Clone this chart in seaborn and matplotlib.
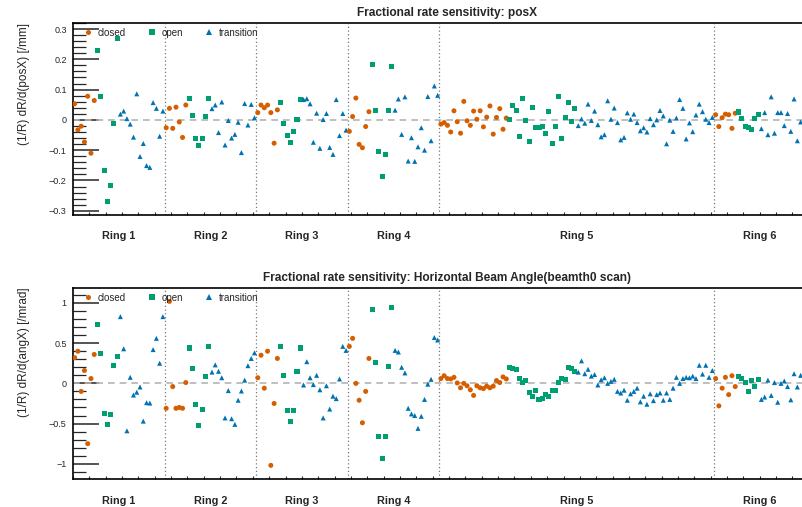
import pandas as pd
import seaborn as sns
import matplotlib.pyplot as plt
from matplotlib.ticker import MultipleLocator, FuncFormatter

# detector layout: rings, ring 5 has three times as many channels
rings = ['Ring 1', 'Ring 2', 'Ring 3', 'Ring 4', 'Ring 5', 'Ring 6']
ring_mult = [1, 1, 1, 1, 3, 1]
types = ['closed', 'open', 'transition']
type_counts = [7, 7, 14]

# posX sensitivity, per ring: closed, open, transition channels in order
posx_r1 = [0.053, -0.033, -0.021, -0.073, 0.078, -0.11, 0.064,
           0.229, 0.076, -0.166, -0.269, -0.218, -0.012, 0.268,
           0.019, 0.029, 0.004, -0.014, -0.057, 0.086, -0.121, -0.078, -0.151, -0.157, 0.057, 0.038, -0.054, 0.029]
posx_r2 = [-0.026, 0.038, -0.028, 0.042, -0.007, -0.058, 0.049,
           0.072, 0.014, -0.061, -0.084, -0.061, 0.012, 0.072,
           0.037, 0.049, -0.042, 0.059, -0.083, -0.002, -0.06, -0.048, -0.008, -0.108, 0.054, -0.017, 0.051, 0.007]
posx_r3 = [0.024, 0.049, 0.04, 0.049, 0.024, -0.077, 0.033,
           0.056, -0.011, -0.051, -0.074, -0.037, 0.0, 0.066,
           0.067, 0.07, 0.053, -0.074, 0.022, -0.094, 0.001, 0.021, -0.091, -0.114, 0.067, -0.052, 0.021, -0.034]
posx_r4 = [-0.038, 0.011, 0.072, -0.081, -0.092, -0.022, 0.027,
           0.182, 0.032, -0.104, -0.188, -0.114, 0.032, 0.176,
           0.032, 0.069, -0.048, 0.076, -0.136, -0.059, -0.137, -0.089, -0.026, -0.1, 0.077, -0.069, 0.112, 0.081]
posx_r5 = [-0.014, -0.009, -0.018, -0.04, 0.03, -0.006, -0.044, 0.061, -0.003, -0.018, 0.029,
           0.002, 0.03, -0.023, 0.009, 0.046, -0.047, 0.008, 0.037, -0.031, 0.006,
           0.002, 0.049, 0.032, -0.054, 0.072, -0.001, -0.071, 0.042, -0.026, -0.024, -0.021,
           -0.044, 0.029, -0.078, -0.021, 0.076, -0.061, 0.009, 0.056, -0.004, 0.036,
           -0.019, 0.003, -0.011, 0.052, -0.002, 0.029, -0.016, -0.056, -0.049, 0.063,
           0.002, 0.039, -0.009, -0.066, -0.058, 0.023, 0.002, 0.019, -0.009, -0.036,
           -0.026, -0.04, 0.004, -0.016, 0.0, 0.031, 0.013, -0.079, -0.001, -0.038, 0.006,
           0.067, 0.038, -0.063, -0.01, -0.039, 0.016, 0.052, 0.027, 0.002, -0.009, 0.008]
posx_r6 = [0.017, -0.022, 0.007, 0.019, 0.017, -0.028, 0.022,
           0.026, 0.006, -0.021, -0.024, -0.031, 0.006, 0.019,
           -0.029, 0.024, -0.049, 0.076, -0.044, 0.024, 0.024, -0.019, 0.021, -0.038, 0.069, -0.069, -0.007, -0.005]

# angX sensitivity
angx_r1 = [0.32, 0.40, -0.10, 0.16, -0.75, 0.06, 0.36,
           0.73, 0.37, -0.37, -0.51, -0.39, 0.22, 0.34,
           0.83, 0.43, -0.59, 0.075, -0.145, -0.11, -0.045, -0.47, -0.24, -0.245, 0.42, 0.56, 0.25, 0.83]
angx_r2 = [-0.31, 1.02, -0.04, -0.31, -0.30, -0.31, 0.01,
           0.44, 0.18, -0.26, -0.53, -0.33, 0.09, 0.46,
           0.14, 0.23, 0.15, 0.07, -0.43, -0.09, -0.44, -0.51, -0.21, -0.095, 0.04, 0.22, 0.31, 0.38]
angx_r3 = [0.07, 0.35, -0.06, 0.40, -1.02, -0.25, 0.31,
           0.46, 0.10, -0.34, -0.48, -0.34, 0.145, 0.44,
           -0.02, 0.27, 0.07, -0.015, 0.10, -0.08, -0.43, -0.03, -0.32, -0.16, -0.19, 0.055, 0.46, 0.41]
angx_r4 = [0.46, 0.56, 0.0, -0.21, -0.49, -0.10, 0.31,
           0.92, 0.26, -0.66, -0.94, -0.66, 0.21, 0.95,
           0.41, 0.39, 0.20, 0.13, -0.31, -0.38, -0.40, -0.56, -0.41, -0.20, -0.01, 0.05, 0.57, 0.54]
angx_r5 = [0.06, 0.095, 0.06, 0.055, 0.075, 0.005, -0.055, 0.0, -0.03, -0.08, -0.15,
           -0.03, -0.055, -0.065, -0.035, -0.055, -0.035, 0.035, 0.01, 0.08, 0.055,
           0.195, 0.18, 0.175, 0.06, 0.01, 0.035, -0.115, -0.165, -0.09, -0.205, -0.19,
           -0.14, -0.16, -0.09, -0.09, 0.01, 0.06, 0.05, 0.195, 0.18, 0.145,
           0.14, 0.28, 0.12, 0.175, 0.09, 0.11, -0.02, 0.045, 0.07, 0.0,
           0.025, 0.05, -0.10, -0.12, -0.085, -0.21, -0.13, -0.10, -0.06, -0.23,
           -0.16, -0.26, -0.13, -0.215, -0.14, -0.12, -0.21, -0.12, -0.20, -0.06,
           0.075, 0.0, 0.06, 0.075, 0.07, 0.09, 0.06, 0.225, 0.115, 0.225, 0.075, 0.16]
angx_r6 = [0.06, -0.28, -0.06, 0.075, -0.14, 0.095, -0.04,
           0.08, 0.055, 0.01, -0.10, 0.03, -0.035, 0.05,
           -0.20, -0.17, 0.04, -0.15, 0.01, -0.235, 0.0, 0.03, -0.04, -0.205, 0.12, -0.045, 0.10, 0.10]

colors = {'closed': '#D55E00', 'open': '#009E73', 'transition': '#0072B2'}
markers = {'closed': 'o', 'open': 's', 'transition': '^'}


def build(ring_values):
    rows = []
    ch = 0
    for ring, mult, vals in zip(rings, ring_mult, ring_values):
        labels = []
        for t, n in zip(types, type_counts):
            labels += [t] * (n * mult)
        for lab, v in zip(labels, vals):
            rows.append((ch + 0.5, v, lab, ring))
            ch += 1
    return pd.DataFrame(rows, columns=['channel', 'value', 'type', 'ring'])


df_posx = build([posx_r1, posx_r2, posx_r3, posx_r4, posx_r5, posx_r6])
df_angx = build([angx_r1, angx_r2, angx_r3, angx_r4, angx_r5, angx_r6])

# ring boundaries in channel units
edges = [0]
for m in ring_mult:
    edges.append(edges[-1] + sum(type_counts) * m)

sns.set_style('ticks')
plt.rcParams['font.family'] = ['Liberation Sans', 'DejaVu Sans']
plt.rcParams['axes.unicode_minus'] = True

fig = plt.figure(figsize=(8.02, 5.07), dpi=100)
ax1 = fig.add_axes([0.091, 0.576, 0.9134, 0.3787])
ax2 = fig.add_axes([0.091, 0.0552, 0.9134, 0.3773])

panels = [
    (ax1, df_posx, 'Fractional rate sensitivity: posX', '(1/R) dR/d(posX) [/mm]',
     (-0.314, 0.32), 0.1, 0.02),
    (ax2, df_angx, 'Fractional rate sensitivity: Horizontal Beam Angle(beamth0 scan)',
     '(1/R) dR/d(angX) [/mrad]', (-1.19, 1.19), 0.5, 0.1),
]

fmt = FuncFormatter(lambda v, p: f'{v:g}'.replace('-', '\u2212'))

for ax, df, title, ylab, ylim, major, minor in panels:
    ax.axhline(0, color='#b4b4b4', ls=(0, (4, 3)), lw=1.2, zorder=1)
    for e in edges[1:-1]:
        ax.axvline(e, color='#777777', ls=(0, (1, 2)), lw=0.9, zorder=1)

    sns.scatterplot(data=df, x='channel', y='value', hue='type', style='type',
                    palette=colors, markers=markers, s=13, linewidth=0,
                    ax=ax, zorder=3)

    handles, labels = ax.get_legend_handles_labels()
    ax.legend(handles, labels, ncol=3, loc='upper left', bbox_to_anchor=(0.016, 0.975),
              frameon=False, fontsize=7, handlelength=0.6, handletextpad=0.7,
              columnspacing=2.4, borderpad=0, borderaxespad=0)

    ax.set_xlim(edges[0], edges[-1])
    ax.set_ylim(*ylim)
    ax.xaxis.set_major_locator(MultipleLocator(5))
    ax.xaxis.set_major_formatter(plt.NullFormatter())
    ax.tick_params(axis='x', direction='in', length=2.5, width=0.8, top=False)
    ax.yaxis.set_major_locator(MultipleLocator(major))
    ax.yaxis.set_minor_locator(MultipleLocator(minor))
    ax.yaxis.set_major_formatter(fmt)
    ax.tick_params(axis='y', which='major', direction='in', length=19, width=1.1,
                   labelsize=6.5, pad=4.5, right=False)
    ax.tick_params(axis='y', which='minor', direction='in', length=9.5, width=0.9, right=False)
    for s in ax.spines.values():
        s.set_linewidth(1.2)
        s.set_color('black')

    ax.set_title(title, fontsize=8.6, fontweight='bold', x=0.511, pad=5)
    ax.set_xlabel('')
    ax.set_ylabel(ylab, fontsize=8.5, loc='top')
    ax.yaxis.set_label_coords(-0.058, 1.0)

    for i, ring in enumerate(rings):
        ax.annotate(ring, xy=((edges[i] + edges[i + 1]) / 2, 0), xycoords=('data', 'axes fraction'),
                    xytext=(0, -15.5), textcoords='offset points', ha='center', va='center',
                    fontsize=7.8, fontweight='bold', annotation_clip=False)

fig.savefig('out.png', dpi=100)
